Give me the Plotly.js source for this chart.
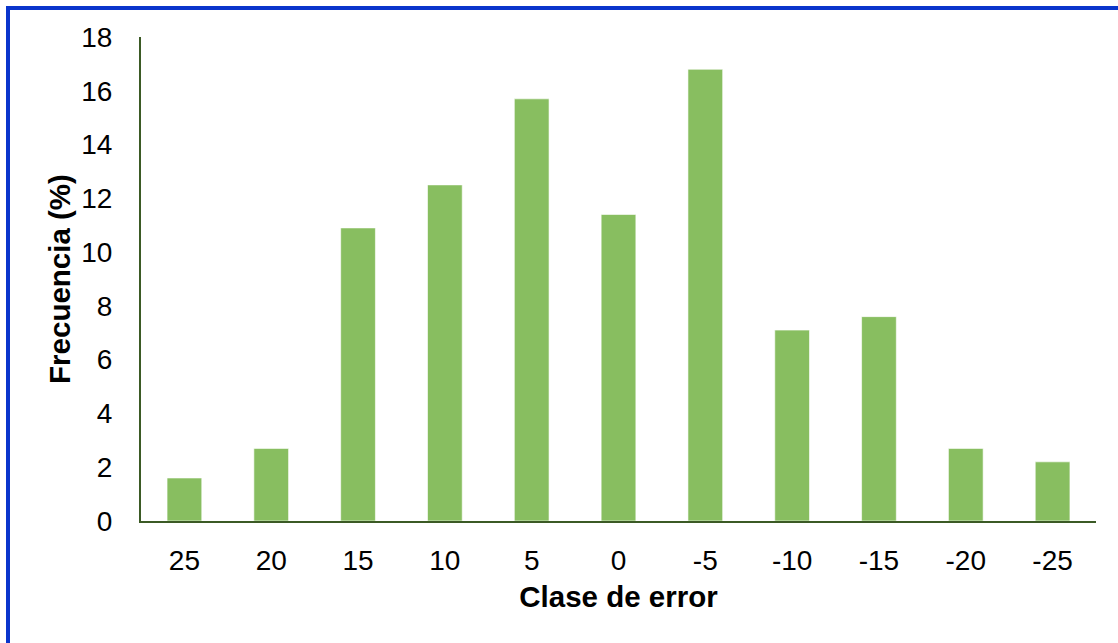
<!DOCTYPE html>
<html>
<head>
<meta charset="utf-8">
<script src="https://cdn.plot.ly/plotly-3.0.1.min.js"></script>
<style>
  html, body { margin: 0; padding: 0; background: #ffffff; }
  #wrap { position: relative; width: 1118px; height: 643px; overflow: hidden; }
  #chart { position: absolute; left: 0; top: 0; width: 1118px; height: 643px; }
  #frame { position: absolute; left: 6px; top: 6px; width: 1200px; height: 700px;
           border-left: 4px solid #0a35cc; border-top: 4px solid #0a35cc; pointer-events: none; }
</style>
</head>
<body>
<div id="wrap">
  <div id="chart"></div>
  <div id="frame"></div>
</div>
<script>
const categories = ["25", "20", "15", "10", "5", "0", "-5", "-10", "-15", "-20", "-25"];
const frecuencia = [1.6, 2.7, 10.9, 12.5, 15.7, 11.4, 16.8, 7.1, 7.6, 2.7, 2.2];
const yTicks = [0, 2, 4, 6, 8, 10, 12, 14, 16, 18];

const font = "Liberation Sans, Arial, sans-serif";

Plotly.newPlot("chart", [{
  type: "bar",
  x: categories,
  y: frecuencia,
  width: 0.4,
  marker: { color: "#88be60", line: { color: "rgba(255,255,255,0.6)", width: 1 } },
  hoverinfo: "x+y"
}], {
  width: 1118, height: 643,
  margin: { l: 141, r: 22, t: 37, b: 122 },
  paper_bgcolor: "#ffffff",
  plot_bgcolor: "#ffffff",
  showlegend: false,
  bargap: 0.6,
  xaxis: {
    type: "category",
    categoryorder: "array",
    categoryarray: categories,
    showline: true, linecolor: "#3b5a25", linewidth: 2,
    showgrid: false, zeroline: false,
    ticks: "outside", ticklen: 13, tickcolor: "rgba(0,0,0,0)",
    tickfont: { family: font, size: 28, color: "#000000" },
    title: { text: "<b>Clase de error</b>", font: { family: font, size: 29.5, color: "#000000" }, standoff: 12 }
  },
  yaxis: {
    range: [0, 18],
    tickvals: yTicks,
    showline: true, linecolor: "#3b5a25", linewidth: 2,
    showgrid: false, zeroline: false,
    ticks: "outside", ticklen: 21, tickcolor: "rgba(0,0,0,0)",
    tickfont: { family: font, size: 28, color: "#000000" },
    title: { text: "<b>Frecuencia (%)</b>", font: { family: font, size: 29.5, color: "#000000" }, standoff: 2 }
  }
}, { displayModeBar: false, staticPlot: true });
</script>
</body>
</html>
